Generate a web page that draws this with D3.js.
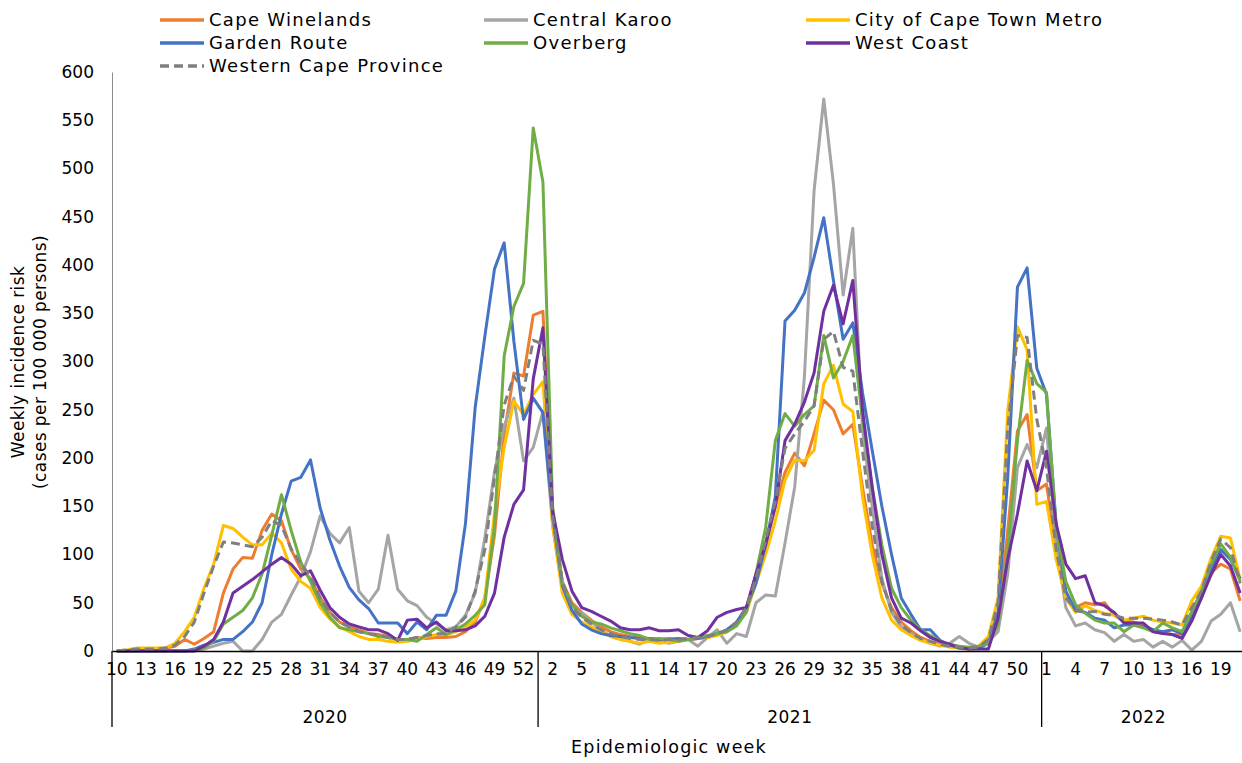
<!DOCTYPE html>
<html><head><meta charset="utf-8">
<script src="https://cdn.jsdelivr.net/npm/d3@7/dist/d3.min.js"></script>
<style>
body{margin:0;background:#fff;}
svg text{font-family:"DejaVu Sans",sans-serif;fill:#000;}
</style></head><body>
<svg id="chart" width="1242" height="763"></svg>
<script>
// ---- categories ----
const weeks2020 = d3.range(10, 54);
const weeks2021 = d3.range(1, 53);
const weeks2022 = d3.range(1, 22);
const years = ["2020", "2021", "2022"];
const yTicks = [0, 50, 100, 150, 200, 250, 300, 350, 400, 450, 500, 550, 600];

// ---- series (2020 w10-53, 2021 w1-52, 2022 w1-21) ----
const capeWinelands = [0,0,1,2,2,3,5,12,7,13,20,60,85,97,96,125,142,135,105,85,75,55,40,30,25,22,18,17,15,12,12,14,13,14,14,15,20,30,55,120,225,288,285,348,
 352,140,72,50,40,32,25,20,17,15,14,13,12,13,12,12,13,14,17,20,28,45,78,112,150,185,205,192,225,260,250,225,235,170,110,70,45,30,21,14,10,7,5,3,2,3,10,30,125,228,245,166,
 173,105,58,45,50,48,50,37,31,30,27,22,19,17,17,37,55,81,90,85,52];
const centralKaroo = [0,0,0,0,0,0,0,0,0,2,5,8,10,0,0,12,30,38,58,77,103,140,122,112,128,62,50,64,120,64,52,47,35,28,22,25,37,60,117,186,233,262,197,211,
 248,130,65,38,40,30,22,15,12,10,7,12,10,8,10,12,5,14,22,8,18,15,50,58,57,112,170,284,477,572,484,369,438,230,150,75,40,25,18,12,8,5,8,15,8,4,10,20,80,190,214,190,
 231,110,45,26,29,22,19,10,17,10,12,4,10,4,11,1,10,31,38,50,20];
const capeTown = [0,1,3,3,3,3,8,20,35,65,90,130,127,118,110,110,122,112,85,72,65,45,33,25,20,15,12,12,10,9,10,12,15,17,17,20,25,32,55,143,211,259,245,266,
 279,130,60,38,30,25,20,15,12,10,8,10,8,9,10,12,13,14,16,20,28,40,70,100,135,177,198,197,208,277,296,256,248,160,100,55,32,22,16,11,8,6,4,3,2,5,15,55,249,336,312,152,
 155,95,55,40,47,42,39,37,32,34,36,32,30,29,27,52,67,96,119,117,74];
const gardenRoute = [0,0,0,0,0,0,0,0,2,6,9,12,12,20,30,50,100,142,176,180,198,148,115,88,66,53,44,29,29,29,18,30,22,37,37,62,132,252,326,396,423,321,240,262,
 247,140,68,42,28,22,18,16,15,14,13,13,12,12,13,12,13,15,18,22,30,45,70,110,160,342,353,371,408,449,384,323,340,268,208,150,100,55,38,22,22,11,6,4,3,3,8,40,180,377,397,293,
 266,130,62,42,40,34,32,24,27,27,25,22,20,22,18,35,55,85,105,95,75];
const overberg = [0,0,0,0,0,0,0,0,1,3,10,28,35,42,55,80,120,162,125,92,72,50,35,24,22,20,18,15,14,12,12,10,17,24,17,22,28,37,48,130,306,357,381,542,
 486,150,70,48,36,30,28,24,21,18,16,12,13,12,10,12,14,16,18,20,26,40,80,128,218,246,233,245,254,327,283,300,327,240,170,110,65,45,32,22,16,10,7,5,4,5,8,27,104,218,301,277,
 268,128,72,48,39,32,29,29,20,27,24,20,29,24,20,41,62,90,111,97,72];
const westCoast = [0,0,0,0,0,0,0,0,0,5,12,30,60,67,74,82,90,97,90,78,83,63,45,35,28,25,22,22,18,11,32,33,24,30,21,21,22,26,36,60,118,152,167,282,
 335,145,95,62,45,41,36,31,24,22,22,24,21,21,22,16,14,21,35,40,43,45,80,110,150,218,235,258,288,352,379,339,384,250,170,100,55,34,29,21,14,10,7,3,2,2,2,34,95,142,197,166,
 207,132,90,75,78,50,47,40,29,29,29,20,18,17,13,31,55,79,100,88,60];
const westernCape = [0,1,2,2,2,3,6,15,30,60,88,113,112,110,108,118,135,130,106,90,78,55,40,30,25,20,18,17,14,12,12,14,16,18,18,25,35,62,105,180,255,285,270,322,
 318,140,72,45,35,28,22,18,15,13,12,12,11,12,12,13,14,15,18,22,30,45,75,115,155,210,225,238,254,323,331,294,290,208,130,72,42,27,19,13,10,7,5,4,3,4,12,50,230,327,325,240,
 190,105,55,43,40,41,38,37,34,34,34,33,32,30,27,45,62,93,116,107,70];

const seriesNames = ["Cape Winelands","Central Karoo","City of Cape Town Metro","Garden Route","Overberg","West Coast","Western Cape Province"];
const seriesValues = [capeWinelands, centralKaroo, capeTown, gardenRoute, overberg, westCoast, westernCape];
const seriesColors = ["#ED7D31","#A5A5A5","#FFC000","#4472C4","#70AD47","#7030A0","#7F7F7F"];

// build category table
const cats = [];
weeks2020.forEach(w => cats.push({year: "2020", week: w}));
weeks2021.forEach(w => cats.push({year: "2021", week: w}));
weeks2022.forEach(w => cats.push({year: "2022", week: w}));
const idx = cats.map((d, i) => i);

const svg = d3.select("#chart");
const pLeft = 112, pRight = 1245, pTop = 72, pBottom = 651;

const x = d3.scaleBand().domain(idx).range([pLeft, pRight]).padding(0);
const bw = x.bandwidth();
const cx = i => x(i) + bw / 2;
const y = d3.scaleLinear().domain([0, 600]).range([pBottom, pTop]);

// y axis
const yAxis = svg.append("g").attr("transform", `translate(${pLeft},0)`)
  .call(d3.axisLeft(y).tickValues(yTicks).tickSize(0).tickPadding(18));
yAxis.select(".domain").attr("stroke", "#8C8C8C").attr("stroke-width", 1);
yAxis.selectAll("text").style("font-size", "17px").attr("fill", "#000");

// y title
const yt = svg.append("text").attr("transform", "translate(24,362) rotate(-90)")
  .attr("text-anchor", "middle").style("font-size", "17px").style("letter-spacing", "0.4px");
yt.append("tspan").attr("x", 0).attr("dy", 0).text("Weekly incidence risk");
yt.append("tspan").attr("x", 0).attr("dy", 22).text("(cases per 100 000 persons)");

// lines
const line = d3.line().x((d, i) => cx(i)).y(d => y(d));
const plot = svg.append("g");
seriesValues.forEach((vals, s) => {
  plot.append("path").datum(vals)
    .attr("fill", "none")
    .attr("stroke", seriesColors[s])
    .attr("stroke-width", 3)
    .attr("stroke-linejoin", "round")
    .attr("stroke-dasharray", s === 6 ? "9,5" : null)
    .attr("d", line);
});

// x axis
const tickIdx = idx.filter(i => i % 3 === 0);
const xAxis = svg.append("g").attr("transform", `translate(0,${pBottom})`)
  .call(d3.axisBottom(x).tickValues(tickIdx).tickSize(0).tickPadding(12)
    .tickFormat(i => cats[i].week));
xAxis.select(".domain").attr("stroke", "#000").attr("stroke-width", 1.3);
xAxis.selectAll("text").style("font-size", "17px").attr("fill", "#000");

// year groups
const groups = years.map(yr => {
  const ids = idx.filter(i => cats[i].year === yr);
  return {yr, start: x(ids[0]), end: x(ids[ids.length - 1]) + bw};
});
groups.forEach(g => {
  svg.append("line").attr("x1", g.start).attr("x2", g.start).attr("y1", pBottom).attr("y2", 727)
    .attr("stroke", "#000").attr("stroke-width", 1.3);
  svg.append("text").attr("x", (g.start + g.end) / 2).attr("y", 723).attr("text-anchor", "middle")
    .style("font-size", "17px").style("letter-spacing", "0.5px").text(g.yr);
});

// x title
svg.append("text").attr("x", 669).attr("y", 753).attr("text-anchor", "middle")
  .style("font-size", "17.5px").style("letter-spacing", "1.2px").text("Epidemiologic week");

// legend
const legCols = [160, 484, 806];
const legRows = [20, 43, 66];
seriesNames.forEach((n, s) => {
  const lx = legCols[s % 3], ly = legRows[Math.floor(s / 3)];
  svg.append("line").attr("x1", lx).attr("x2", lx + 44).attr("y1", ly).attr("y2", ly)
    .attr("stroke", seriesColors[s]).attr("stroke-width", 3.5)
    .attr("stroke-dasharray", s === 6 ? "9,5" : null);
  svg.append("text").attr("x", lx + 49).attr("y", ly).attr("dy", "0.35em")
    .style("font-size", "18px").style("letter-spacing", "1.3px").text(n);
});
</script>
</body></html>
